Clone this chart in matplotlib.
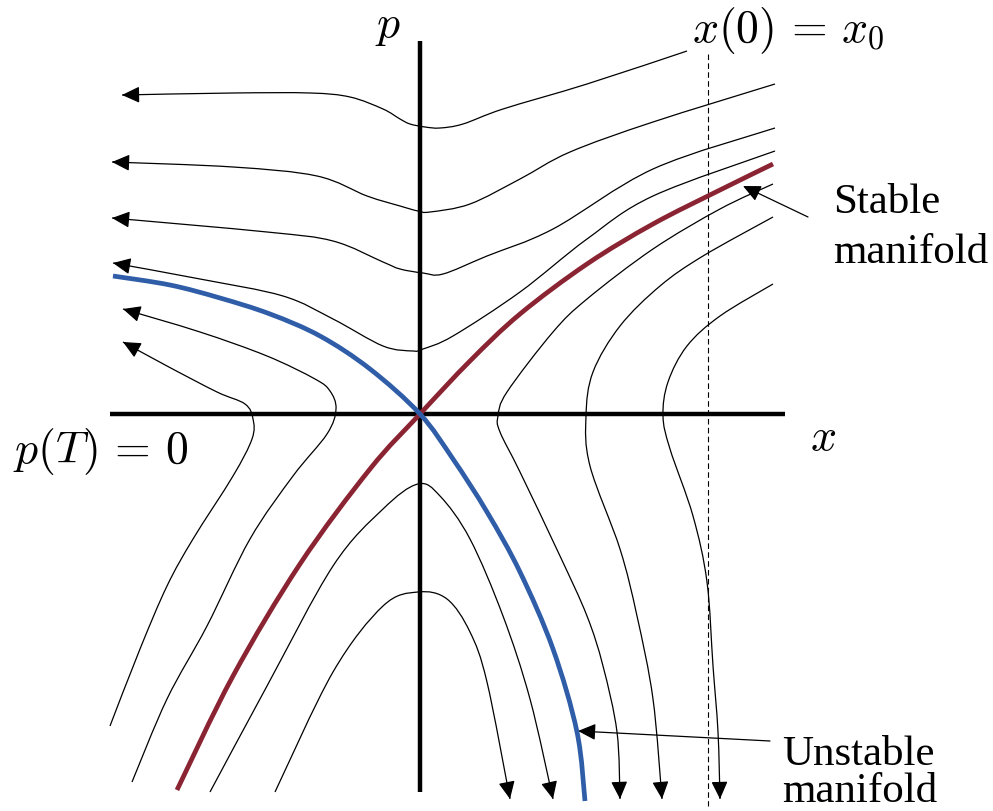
import numpy as np
import matplotlib.pyplot as plt
from matplotlib.path import Path
from matplotlib.patches import PathPatch

plt.rcParams['mathtext.fontset'] = 'cm'

# trajectories, origin at the saddle point (units ~ pixels of the sketch)
# upper family: come in from the right, turn at the p axis, leave to the left
a_x = [267, 167, 83, 43, 20, 5, -10, -20, -37, -70, -110, -187, -298]
a_y = [363, 330, 305, 290, 286, 287, 290, 295, 305, 317, 321, 321, 319]
b_x = [355, 233, 150, 100, 50, 10, -2, -20, -53, -103, -187, -308]
b_y = [330, 292, 262, 235, 210, 202, 203, 208, 218, 238, 247, 252]
c_x = [355, 233, 133, 67, 23, 3, -20, -37, -87, -153, -308]
c_y = [286, 245, 185, 158, 140, 141, 145, 152, 173, 182, 196]
d_x = [355, 233, 167, 100, 33, 3, -7, -37, -87, -137, -220, -307]
d_y = [263, 218, 175, 122, 78, 65, 63, 68, 95, 118, 135, 151]

# left family: come up from below, turn near p = 0, leave up-left
e_x = [-288, -253, -213, -170, -127, -93, -84, -90, -105, -153, -220, -297]
e_y = [-368, -285, -212, -125, -62, -20, 5, 23, 35, 58, 82, 105]
f_x = [-310, -280, -253, -227, -187, -168, -167, -175, -203, -253, -297]
f_y = [-312, -235, -172, -125, -62, -25, -5, 10, 22, 48, 72]

# lower family: up from the lower left, over the p axis, down to the right
g_x = [-145, -87, -37, -2, 27, 50, 67, 90]
g_y = [-378, -258, -192, -178, -185, -218, -268, -385]
h_x = [-210, -153, -87, -37, -2, 20, 50, 83, 110, 133]
h_y = [-378, -272, -152, -95, -70, -82, -125, -202, -285, -385]

# right family: from the upper right, down across p = 0
i_x = [353, 300, 233, 167, 133, 87, 78, 80, 100, 140, 167, 183, 197, 200]
i_y = [230, 205, 165, 115, 82, 22, -2, -18, -58, -142, -202, -252, -318, -385]
j_x = [353, 283, 240, 200, 173, 166, 170, 200, 217, 233, 242]
j_y = [197, 158, 128, 88, 42, -2, -52, -135, -202, -285, -385]
k_x = [353, 300, 267, 248, 243, 250, 273, 287, 293, 298, 300]
k_y = [130, 98, 68, 32, -2, -35, -102, -168, -252, -318, -385]

# manifolds
stable_x = [-243, -187, -120, -50, 0, 50, 100, 167, 233, 300, 353]
stable_y = [-376, -262, -150, -55, 0, 53, 100, 150, 190, 224, 250]
unstable_x = [-307, -250, -200, -150, -100, -50, 0, 33, 67, 100, 133, 157, 165]
unstable_y = [138, 129, 116, 100, 78, 45, 0, -45, -98, -158, -235, -318, -387]

x0_line = 288

RED = '#8b2432'
BLUE = '#2f5da8'


def smooth(xs, ys):
    p = np.column_stack([xs, ys]).astype(float)
    p = np.vstack([p[0], p, p[-1]])
    verts = [p[1]]
    codes = [Path.MOVETO]
    for i in range(1, len(p) - 2):
        c1 = p[i] + (p[i + 1] - p[i - 1]) / 6.0
        c2 = p[i + 1] - (p[i + 2] - p[i]) / 6.0
        verts += [c1, c2, p[i + 1]]
        codes += [Path.CURVE4] * 3
    return Path(verts, codes)


def head(ax, xs, ys):
    end = np.array([xs[-1], ys[-1]], float)
    prev = np.array([xs[-2], ys[-2]], float)
    d = (end - prev) / np.hypot(*(end - prev))
    ax.annotate('', xy=end, xytext=end - d * 12,
                arrowprops=dict(arrowstyle='-|>,head_length=0.9,head_width=0.42',
                                mutation_scale=12, color='k', lw=0.9,
                                shrinkA=0, shrinkB=0))


fig = plt.figure(figsize=(9.93, 8.12), dpi=100)
ax = fig.add_axes([0, 0, 1, 1])
ax.set_xlim(-420, 573)
ax.set_ylim(-397, 415)
ax.axis('off')

# axes
ax.plot([-310, 365], [0, 0], color='k', lw=3.2, solid_capstyle='butt', zorder=3)
ax.plot([0, 0], [-378, 373], color='k', lw=3.2, solid_capstyle='butt', zorder=3)

# x(0) = x0 line
ax.plot([x0_line, x0_line], [360, -392], color='k', lw=0.8, ls=(0, (5, 3)))

for xs, ys in [(a_x, a_y), (b_x, b_y), (c_x, c_y), (d_x, d_y), (e_x, e_y),
               (f_x, f_y), (g_x, g_y), (h_x, h_y), (i_x, i_y), (j_x, j_y),
               (k_x, k_y)]:
    ax.add_patch(PathPatch(smooth(xs, ys), fill=False, lw=0.9, ec='k'))
    head(ax, xs, ys)

ax.add_patch(PathPatch(smooth(stable_x, stable_y), fill=False, lw=3.4, ec=RED,
                       capstyle='butt', zorder=4))
ax.add_patch(PathPatch(smooth(unstable_x, unstable_y), fill=False, lw=3.4, ec=BLUE,
                       capstyle='butt', zorder=4))

# labels
ax.text(-45, 378, r'$p$', fontsize=33, ha='left', va='baseline')
ax.text(272, 373, r'$x(0)\,=\,x_0$', fontsize=33, ha='left', va='baseline')
ax.text(390, -35, r'$x$', fontsize=33, ha='left', va='baseline')
ax.text(-407, -48, r'$p(T)\,=\,0$', fontsize=33, ha='left', va='baseline')

serif = dict(fontsize=31, family='Liberation Serif', ha='left', va='baseline')
ax.text(413, 202, 'Stable', **serif)
ax.text(413, 152, 'manifold', **serif)
ax.text(362, -350, 'Unstable', **serif)
ax.text(362, -387, 'manifold', **serif)

ap = dict(arrowstyle='-|>,head_length=0.9,head_width=0.42', mutation_scale=12,
          color='k', lw=0.9, shrinkA=0, shrinkB=0)
ax.annotate('', xy=(323, 228), xytext=(388, 197), arrowprops=ap)
ax.annotate('', xy=(158, -317), xytext=(350, -327), arrowprops=ap)

fig.savefig('out.png', dpi=100)
